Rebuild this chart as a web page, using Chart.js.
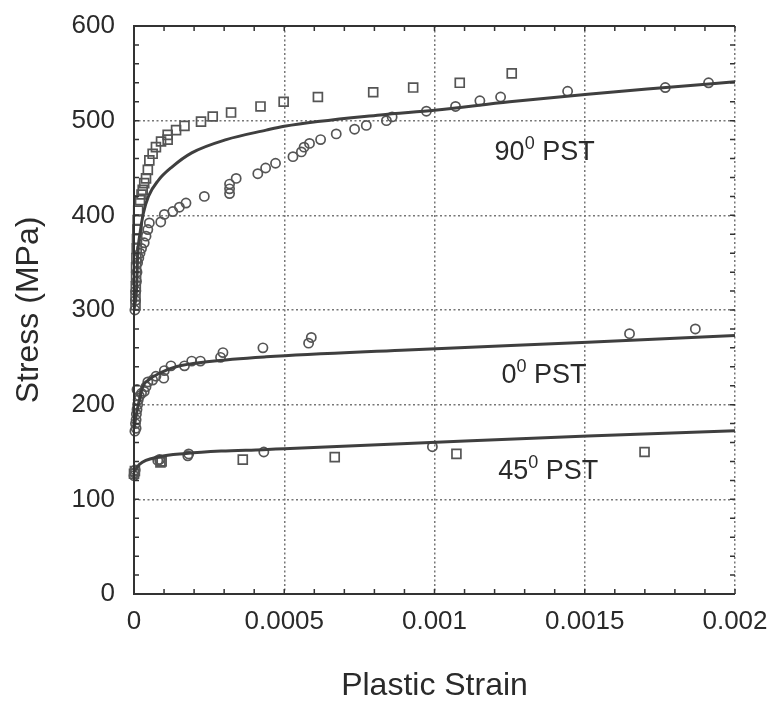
<!DOCTYPE html>
<html>
<head>
<meta charset="utf-8">
<script src="https://cdn.jsdelivr.net/npm/chart.js@4.4.1/dist/chart.umd.min.js"></script>
<style>
html, body { margin: 0; padding: 0; background: #fff; }
</style>
</head>
<body>
<canvas id="chartPST" width="774" height="702"></canvas>
<script>
const ticksX = [0, 0.0005, 0.001, 0.0015, 0.002]
const etiquetasX = ['0', '0.0005', '0.001', '0.0015', '0.002']
const ticksY = [0, 100, 200, 300, 400, 500, 600]

// 90 grados PST
const cuadros90 = [[0.000005,305],[0.000005,315],[0.000006,325],[0.000007,335],[0.000007,345],[0.000008,355],[0.000009,365],[0.00001,375],[0.000011,385],[0.000012,395],[0.000014,405],[0.00002,416],[0.000025,422],[0.000029,427],[0.000034,434],[0.00004,439],[0.000046,448],[0.000051,458],[0.000062,465],[0.000073,472],[0.00009,478],[0.000112,485],[0.000112,480],[0.00014,490],[0.000168,494.5],[0.000223,499],[0.000262,504.4],[0.000323,508.6],[0.000421,515],[0.000498,520],[0.000612,525],[0.000796,530],[0.000929,535],[0.001084,540],[0.001257,550]]
const circulos90 = [[0.000003,300],[0.000005,310],[0.000006,320],[0.000008,330],[0.00001,340],[0.000012,350],[0.000016,355],[0.00002,360],[0.000025,365],[0.000034,371],[0.00004,378],[0.000046,385],[0.000051,392],[0.000089,393],[0.000101,401],[0.000129,404],[0.000151,408.6],[0.000173,413],[0.000234,420],[0.000318,423],[0.000318,428],[0.000318,433],[0.00034,439],[0.000412,444],[0.000438,450],[0.000471,455],[0.000529,462],[0.000557,467],[0.000566,472],[0.000584,476],[0.000621,480],[0.000673,486],[0.000734,491],[0.000773,495],[0.00084,500],[0.000859,504],[0.000973,510],[0.00107,515],[0.001151,521],[0.00122,525],[0.001443,531],[0.001768,535],[0.001912,540]]
const curva90 = [[0,300],[0.000009,325],[0.000012,356],[0.00002,381],[0.000031,402],[0.000048,420],[0.000081,437],[0.000126,451],[0.000192,466],[0.000307,480],[0.00044,490],[0.0005,494],[0.00082,506],[0.001,511],[0.00125,520],[0.00151,528],[0.00177,535],[0.002,541]]

// 0 grados PST
const circulos0 = [[0.000003,172],[0.000005,180],[0.000007,175],[0.000007,184],[0.000008,190],[0.00001,195],[0.000012,200],[0.000014,205],[0.00001,216],[0.000018,209],[0.000025,212],[0.000034,214],[0.00004,219],[0.000046,224],[0.000062,226],[0.000073,230],[0.000099,228],[0.000101,236],[0.000123,241],[0.000168,241],[0.000192,246],[0.000221,246],[0.000288,250],[0.000296,255],[0.000429,260],[0.000581,265],[0.00059,271],[0.001649,275],[0.001868,280]]
const curva0 = [[0,175],[0.000008,190],[0.000018,205],[0.000029,219],[0.000048,226],[0.000084,233],[0.00014,240],[0.000251,245.5],[0.00044,250.5],[0.00089,257.5],[0.00151,266],[0.002,273]]

// 45 grados PST
const circulos45 = [[0,125],[0.000002,128],[0.000004,131],[0.000079,141],[0.000085,142],[0.000179,146],[0.000182,148],[0.000432,150],[0.000993,155.6]]
const cuadros45 = [[0,127],[0.000003,130],[0.000088,139],[0.000092,140],[0.000362,142],[0.000668,144.6],[0.001073,148],[0.001699,150]]
const curva45 = [[0,129],[0.000018,137],[0.000084,145],[0.000173,148.5],[0.00029,151],[0.00043,152.5],[0.0005,153.5],[0.00089,158.7],[0.00151,167],[0.002,172.5]]

const rotulos = [
    { base: '90', exp: '0', resto: ' PST', x: 0.0012, y: 458 },
    { base: '0', exp: '0', resto: ' PST', x: 0.001223, y: 223 },
    { base: '45', exp: '0', resto: ' PST', x: 0.001212, y: 122 }
]

const aPuntos = lista => lista.map(p => ({ x: p[0], y: p[1] }))

const fuente = '"Liberation Sans", Arial, sans-serif'

const serieMarcas = (datos, estilo) => ({
    data: aPuntos(datos),
    showLine: false,
    pointStyle: estilo,
    pointRadius: estilo === 'rect' ? 6.3 : 4.6,
    pointBorderWidth: 1.7,
    pointBorderColor: '#555',
    pointBackgroundColor: 'rgba(0,0,0,0)',
    clip: false
})

const serieCurva = datos => ({
    data: aPuntos(datos),
    showLine: true,
    borderColor: '#3f3f3f',
    borderWidth: 3,
    pointRadius: 0,
    cubicInterpolationMode: 'monotone',
    fill: false
})

const marco = {
    id: 'marco',
    afterDatasetsDraw(chart) {
        const { ctx, chartArea: { left, right, top, bottom }, scales: { x, y } } = chart
        ctx.save()
        ctx.strokeStyle = '#333'
        ctx.lineWidth = 2
        ctx.beginPath()
        ctx.moveTo(right, top)
        ctx.lineTo(left, top)
        ctx.lineTo(left, bottom)
        ctx.lineTo(right, bottom)
        ctx.stroke()

        // marcas menores hacia adentro
        ctx.lineWidth = 1.5
        ctx.beginPath()
        for (let i = 0; i <= 20; i++) {
            const px = x.getPixelForValue(i * 0.0001)
            ctx.moveTo(px, bottom); ctx.lineTo(px, bottom - 5)
            ctx.moveTo(px, top); ctx.lineTo(px, top + 5)
        }
        for (let i = 0; i <= 30; i++) {
            const py = y.getPixelForValue(i * 20)
            ctx.moveTo(left, py); ctx.lineTo(left + 5, py)
            ctx.moveTo(right, py); ctx.lineTo(right - 5, py)
        }
        ctx.stroke()

        // rotulos de cada curva
        ctx.fillStyle = '#2a2a2a'
        ctx.textBaseline = 'alphabetic'
        rotulos.forEach(r => {
            let px = x.getPixelForValue(r.x)
            const py = y.getPixelForValue(r.y)
            ctx.font = '27px ' + fuente
            ctx.fillText(r.base, px, py)
            px += ctx.measureText(r.base).width
            ctx.font = '18px ' + fuente
            ctx.fillText(r.exp, px, py - 11)
            px += ctx.measureText(r.exp).width
            ctx.font = '27px ' + fuente
            ctx.fillText(r.resto, px, py)
        })
        ctx.restore()
    }
}

const canvas = document.getElementById('chartPST')
const context = canvas.getContext('2d')

const chartPST = new Chart(context, {
    type: 'scatter',
    data: {
        datasets: [
            serieCurva(curva90),
            serieCurva(curva0),
            serieCurva(curva45),
            serieMarcas(cuadros90, 'rect'),
            serieMarcas(circulos90, 'circle'),
            serieMarcas(circulos0, 'circle'),
            serieMarcas(circulos45, 'circle'),
            serieMarcas(cuadros45, 'rect')
        ]
    },
    options: {
        responsive: false,
        animation: false,
        devicePixelRatio: 1,
        layout: { padding: { top: 26, right: 39, left: 0, bottom: 0 } },
        plugins: {
            legend: { display: false },
            tooltip: { enabled: false }
        },
        scales: {
            x: {
                type: 'linear',
                min: 0,
                max: 0.002,
                afterBuildTicks: escala => { escala.ticks = ticksX.map(v => ({ value: v })) },
                afterFit: escala => {
                    escala.height = 108
                    escala.paddingLeft = 0
                    escala.paddingRight = 0
                },
                ticks: {
                    callback: (valor, i) => etiquetasX[i],
                    color: '#2a2a2a',
                    font: { family: fuente, size: 26 },
                    padding: 12,
                    maxRotation: 0
                },
                grid: { color: '#777', lineWidth: 1.5, drawTicks: false },
                border: { display: false, dash: [2, 2.5] },
                title: {
                    display: true,
                    text: 'Plastic Strain',
                    color: '#2a2a2a',
                    font: { family: fuente, size: 32, lineHeight: 1 },
                    padding: { top: 0, bottom: 0 }
                }
            },
            y: {
                type: 'linear',
                min: 0,
                max: 600,
                afterBuildTicks: escala => { escala.ticks = ticksY.map(v => ({ value: v })) },
                afterFit: escala => {
                    escala.width = 134
                    escala.paddingTop = 0
                    escala.paddingBottom = 0
                },
                ticks: {
                    color: '#2a2a2a',
                    font: { family: fuente, size: 26 },
                    padding: 19
                },
                grid: { color: '#777', lineWidth: 1.5, drawTicks: false },
                border: { display: false, dash: [2, 2.5] },
                title: {
                    display: true,
                    text: 'Stress (MPa)',
                    color: '#2a2a2a',
                    font: { family: fuente, size: 32, lineHeight: 1 },
                    padding: { top: 13, bottom: 0 }
                }
            }
        }
    },
    plugins: [marco]
})
</script>
</body>
</html>
